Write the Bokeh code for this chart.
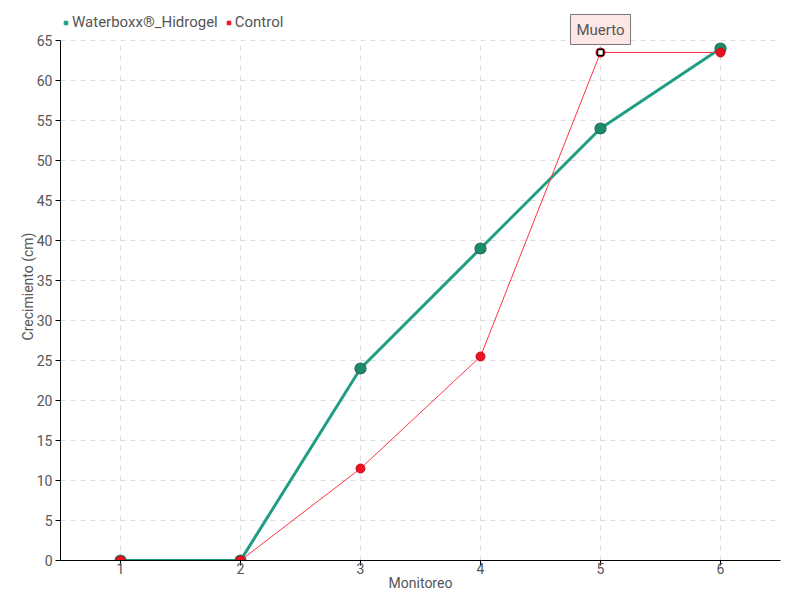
from bokeh.plotting import figure
from bokeh.models import ColumnDataSource, FixedTicker, Label, Legend, LegendItem, Range1d
from bokeh.embed import file_html
from bokeh.resources import INLINE

monitoreo = [1, 2, 3, 4, 5, 6]
waterboxx = [0, 0, 24, 39, 54, 64]
control = [0, 0, 11.5, 25.5, 63.5, 63.5]
y_ticks = list(range(0, 70, 5))
muerto_x = 5
muerto_y = 63.5

FONT = "Roboto"
TXT = "#555555"

p = figure(width=800, height=600, output_backend="svg", toolbar_location=None,
           x_range=Range1d(0.5, 6.5), y_range=Range1d(0, 68.5),
           frame_width=720, frame_height=548,
           min_border_left=60, min_border_right=20, min_border_top=12, min_border_bottom=40)
p.outline_line_color = None
p.background_fill_color = "white"

for ax in (p.xaxis[0], p.yaxis[0]):
    ax.axis_line_color = "black"
    ax.major_tick_line_color = "black"
    ax.minor_tick_line_color = None
    ax.major_tick_out = 5
    ax.major_tick_in = 0
    ax.major_label_text_font = FONT
    ax.major_label_text_font_size = "14px"
    ax.major_label_text_color = TXT
    ax.axis_label_text_font = FONT
    ax.axis_label_text_font_size = "14px"
    ax.axis_label_text_color = TXT
    ax.axis_label_text_font_style = "normal"

p.xaxis.ticker = FixedTicker(ticks=monitoreo)
p.yaxis.ticker = FixedTicker(ticks=y_ticks)
p.yaxis.bounds = (y_ticks[0], y_ticks[-1])
p.xaxis.axis_label = "Monitoreo"
p.yaxis.axis_label = "Crecimiento (cm)"
p.xaxis.major_label_standoff = -3
p.xaxis.axis_label_standoff = -2
p.yaxis.major_label_standoff = 3
p.yaxis.axis_label_standoff = -2

p.xgrid.visible = False
p.ygrid.grid_line_color = "#dddddd"
p.ygrid.grid_line_dash = "5 5"
p.ygrid.ticker = FixedTicker(ticks=y_ticks)

# vertical grid lines limited to the axis extent
p.segment(x0=monitoreo, y0=[y_ticks[0]] * len(monitoreo), x1=monitoreo,
          y1=[y_ticks[-1]] * len(monitoreo), line_color="#dddddd",
          line_dash="5 5", line_width=1, level="underlay")

src = ColumnDataSource(dict(x=monitoreo, w=waterboxx, c=control))

p.line("x", "w", source=src, line_color="#1f9e82", line_width=3)
p.scatter("x", "w", source=src, size=11, fill_color="#1c8a6c",
          line_color="#2a6a55", line_width=1.2)
p.line("x", "c", source=src, line_color="#ff3344", line_width=1)
p.scatter("x", "c", source=src, size=9, fill_color="#ee1122",
          line_color="#c01020", line_width=1)

# "Muerto" marker and tooltip-like label
p.scatter([muerto_x], [muerto_y], marker="square", size=6, fill_color="white",
          line_color="black", line_width=1.5)
lbl = Label(x=muerto_x, y=muerto_y, text="Muerto", text_align="center",
            text_baseline="bottom", y_offset=8, text_font=FONT,
            text_font_size="15px", text_color=TXT,
            background_fill_color="#fde6e6", border_line_color="#777777",
            border_line_width=1, padding=6)
p.add_layout(lbl)

nan = float("nan")
g_sq = p.scatter([nan], [nan], marker="square", size=8, fill_color="#1f9e82",
                 line_color="#1f9e82")
r_sq = p.scatter([nan], [nan], marker="square", size=8, fill_color="#ee1122",
                 line_color="#ee1122")

legend = Legend(items=[LegendItem(label="Waterboxx®_Hidrogel", renderers=[g_sq]),
                       LegendItem(label="Control", renderers=[r_sq])],
                orientation="horizontal", location="top_left",
                background_fill_alpha=0, border_line_color=None,
                label_text_font=FONT, label_text_font_size="15px",
                label_text_color=TXT, glyph_width=9, glyph_height=9,
                label_standoff=2, spacing=6, padding=0, margin=1,
                label_height=16)
p.add_layout(legend)

open("out.html", "w").write(file_html(p, INLINE))
